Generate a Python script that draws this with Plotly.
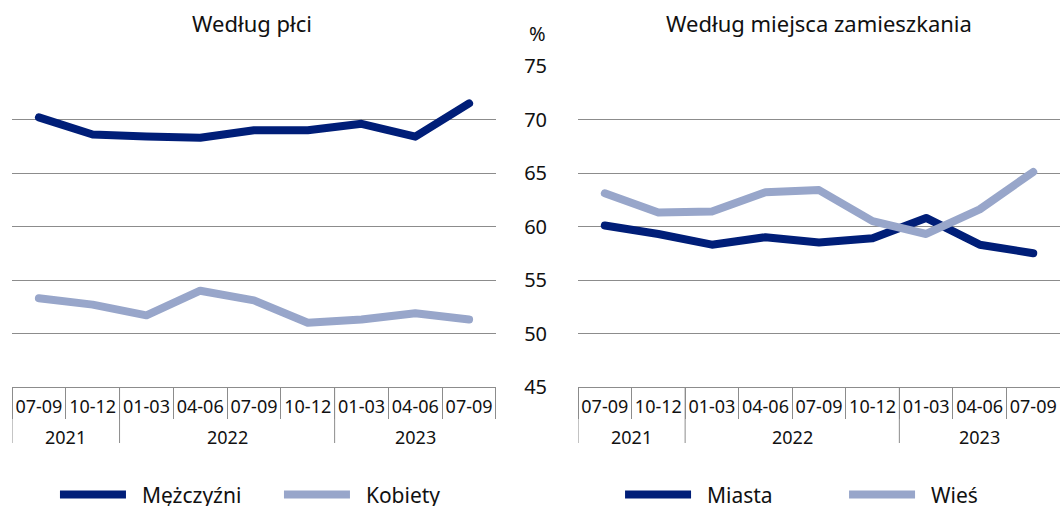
import plotly.graph_objects as go

years = ["2021", "2021", "2022", "2022", "2022", "2022", "2023", "2023", "2023"]
quarters = ["07-09", "10-12", "01-03", "04-06", "07-09", "10-12", "01-03", "04-06", "07-09"]

men = [70.2, 68.6, 68.4, 68.3, 69.0, 69.0, 69.6, 68.4, 71.5]
women = [53.3, 52.7, 51.7, 54.0, 53.1, 51.0, 51.3, 51.9, 51.3]
city = [60.1, 59.3, 58.3, 59.0, 58.5, 58.9, 60.8, 58.3, 57.5]
village = [63.1, 61.3, 61.4, 63.2, 63.4, 60.5, 59.3, 61.6, 65.1]

DARK = "#001E78"
LIGHT = "#98A6CA"
GRID = "#8c8c8c"
FONT = "Noto Sans"
TXT = "#111"
PAD = "\u00a0\u00a0"  # spacing between legend line sample and its label

idx = list(range(len(quarters)))

fig = go.Figure()
fig.add_trace(go.Scatter(x=idx, y=men, name=PAD + "Mężczyźni", mode="lines",
                         line=dict(color=DARK, width=8), xaxis="x", yaxis="y", legend="legend"))
fig.add_trace(go.Scatter(x=idx, y=women, name=PAD + "Kobiety", mode="lines",
                         line=dict(color=LIGHT, width=8), xaxis="x", yaxis="y", legend="legend"))
fig.add_trace(go.Scatter(x=idx, y=city, name=PAD + "Miasta", mode="lines",
                         line=dict(color=DARK, width=8), xaxis="x2", yaxis="y2", legend="legend2"))
fig.add_trace(go.Scatter(x=idx, y=village, name=PAD + "Wieś", mode="lines",
                         line=dict(color=LIGHT, width=8), xaxis="x2", yaxis="y2", legend="legend2"))

bounds = [i - 0.5 for i in range(len(quarters) + 1)]
xcommon = dict(range=[-0.5, len(quarters) - 0.5], tickmode="array", tickvals=idx, ticktext=quarters,
               ticks="", showline=True, linecolor=GRID, linewidth=1, showgrid=False,
               zeroline=False, ticklabelstandoff=3,
               minor=dict(tickmode="array", tickvals=bounds, ticks="outside", ticklen=31,
                          tickcolor=GRID, tickwidth=1, showgrid=False),
               tickfont=dict(family=FONT, size=18, color=TXT))
ycommon = dict(range=[45, 75], tickvals=[45, 50, 55, 60, 65, 70, 75], showgrid=True,
               gridcolor=GRID, gridwidth=1, zeroline=False, showline=False)

# year groups
groups = []
for i, yv in enumerate(years):
    if not groups or groups[-1][0] != yv:
        groups.append([yv, i, i])
    else:
        groups[-1][2] = i

annotations = [
    dict(text="Według płci", x=0.229, y=1.134, xref="paper", yref="paper",
         showarrow=False, xanchor="center", yanchor="middle", font=dict(size=22)),
    dict(text="Według miejsca zamieszkania", x=0.7700, y=1.134, xref="paper", yref="paper",
         showarrow=False, xanchor="center", yanchor="middle", font=dict(size=22)),
    dict(text="%", x=0.501, y=1.1028, xref="paper", yref="paper",
         showarrow=False, xanchor="center", yanchor="middle", font=dict(size=20)),
]
shapes = []
for xr in ["x", "x2"]:
    for yv, a, b in groups:
        annotations.append(dict(text=yv, x=(a + b) / 2, y=-0.1558, xref=xr, yref="paper",
                                showarrow=False, xanchor="center", yanchor="middle",
                                font=dict(family=FONT, size=18, color=TXT)))
        shapes.append(dict(type="line", xref=xr, yref="paper", x0=a - 0.5, x1=a - 0.5,
                           y0=0, y1=-0.1745, line=dict(color=GRID, width=1)))

legend_common = dict(orientation="h", y=-0.336, yanchor="middle", xanchor="left",
                     font=dict(family=FONT, size=21, color=TXT), itemwidth=66,
                     entrywidth=143, bgcolor="rgba(0,0,0,0)")
fig.update_layout(
    width=1060, height=506,
    margin=dict(l=12, r=0, t=66, b=119, autoexpand=False),
    paper_bgcolor="white", plot_bgcolor="white",
    font=dict(family=FONT, size=18, color=TXT),
    xaxis=dict(domain=[0, 0.4618], anchor="y", **xcommon),
    xaxis2=dict(domain=[0.5401, 1], anchor="y2", **xcommon),
    yaxis=dict(anchor="x", showticklabels=False, **ycommon),
    yaxis2=dict(anchor="x2", showticklabels=True, side="left", ticklabelstandoff=30,
                tickfont=dict(family=FONT, size=20, color=TXT), **ycommon),
    legend=dict(x=0.0410, **legend_common),
    legend2=dict(x=0.5802, **legend_common),
    annotations=annotations,
    shapes=shapes,
)
post = ("document.body.style.margin='0';document.body.style.overflow='hidden';"
        "document.querySelectorAll('.scatterlayer path.js-line').forEach(function(p){"
        "p.style.strokeLinecap='round';p.style.strokeLinejoin='round';});")
fig.write_html("out.html", config={"displayModeBar": False}, post_script=post)
